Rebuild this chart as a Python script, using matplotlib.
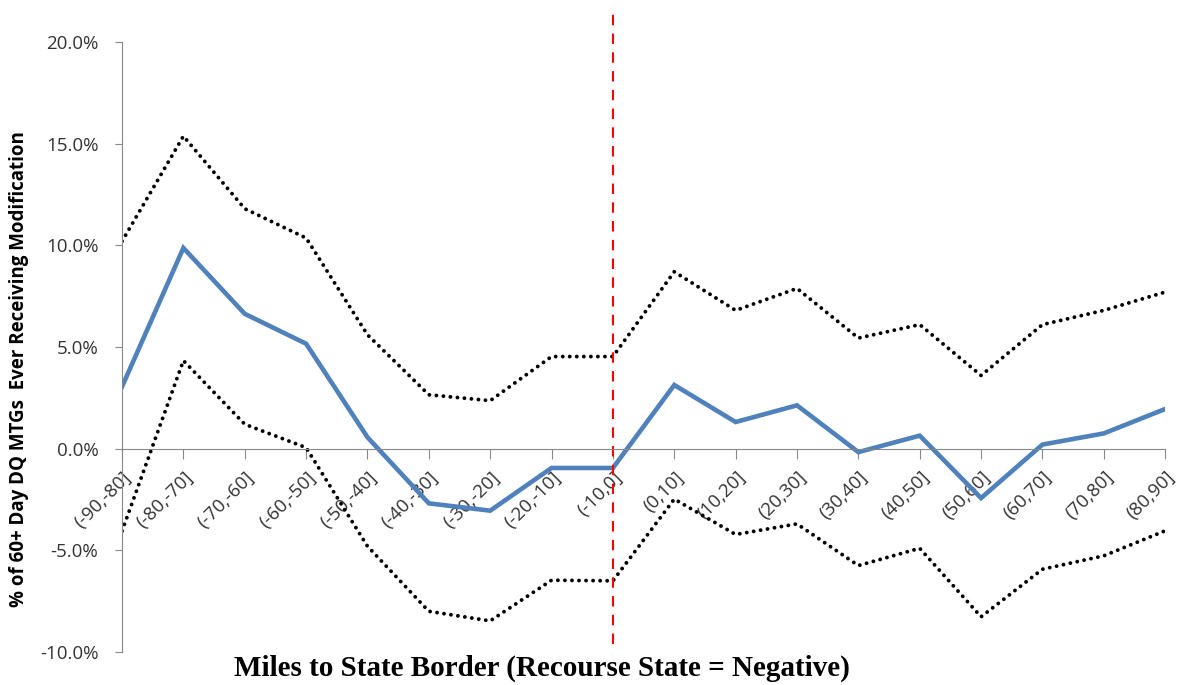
import matplotlib
matplotlib.use("Agg")
import matplotlib.pyplot as plt
import numpy as np
from matplotlib.ticker import FuncFormatter

# bins of miles to state border
cats = ["(-90,-80]", "(-80,-70]", "(-70,-60]", "(-60,-50]", "(-50,-40]", "(-40,-30]",
        "(-30,-20]", "(-20,-10]", "(-10,0]", "(0,10]", "(10,20]", "(20,30]",
        "(30,40]", "(40,50]", "(50,60]", "(60,70]", "(70,80]", "(80,90]"]

# percent values
est = [3.05, 9.87, 6.63, 5.16, 0.56, -2.69, -3.05, -0.95, -0.95, 3.13, 1.31, 2.13,
       -0.17, 0.64, -2.43, 0.2, 0.75, 1.95]
upper = [10.2, 15.37, 11.8, 10.36, 5.6, 2.65, 2.36, 4.53, 4.53, 8.7, 6.8, 7.88,
         5.44, 6.1, 3.6, 6.1, 6.8, 7.7]
lower = [-4.05, 4.33, 1.2, 0.05, -4.8, -8.0, -8.47, -6.47, -6.5, -2.48, -4.22, -3.7,
         -5.75, -4.9, -8.27, -5.93, -5.27, -4.04]

border_idx = 8

plt.rcParams['font.family'] = ['Open Sans', 'DejaVu Sans']

fig = plt.figure(figsize=(11.78, 6.85), dpi=100)
ax = fig.add_axes([0.1036, 0.0482, 0.8855, 0.8905])

x = np.arange(len(cats))
ax.plot(x, upper, color='black', lw=2.8, linestyle=(0, (0.01, 1.8)),
        dash_capstyle='round')
ax.plot(x, lower, color='black', lw=2.8, linestyle=(0, (0.01, 1.8)),
        dash_capstyle='round')
ax.plot(x, est, color='#4F81BD', lw=3.3, solid_joinstyle='miter')

# border marker
ax.plot([border_idx, border_idx], [-9.6, 21.45], color='#FF0000', lw=1.5,
        linestyle=(0, (5, 4)), clip_on=False)

ax.set_xlim(0, len(cats) - 1)
ax.set_ylim(-10, 20)
ax.set_yticks(np.arange(-10, 20.1, 5))
ax.yaxis.set_major_formatter(FuncFormatter(lambda v, p: f"{v:.1f}%"))

ax.spines['right'].set_color('none')
ax.spines['top'].set_color('none')
ax.spines['left'].set_color('#888888')
ax.spines['bottom'].set_color('#888888')
ax.spines['bottom'].set_position(('data', 0))

ax.set_xticks(x)
ax.set_xticklabels(cats, rotation=45, ha='right', rotation_mode='anchor')
ax.tick_params(axis='x', direction='out', length=7, color='#888888',
               labelsize=13.5, labelcolor='#333333', pad=7)
ax.tick_params(axis='y', direction='out', length=5, color='#888888',
               labelsize=13.5, labelcolor='#333333', pad=12)

fig.text(0.016, 0.461, "% of 60+ Day DQ MTGs  Ever Receiving Modification",
         rotation=90, ha='center', va='center', fontsize=13.5, fontweight='bold')
fig.text(0.46, 0.025, "Miles to State Border (Recourse State = Negative)",
         ha='center', va='center', fontsize=21, fontweight='bold',
         family=['Liberation Serif', 'DejaVu Serif'])

fig.savefig("out.png", dpi=100)
